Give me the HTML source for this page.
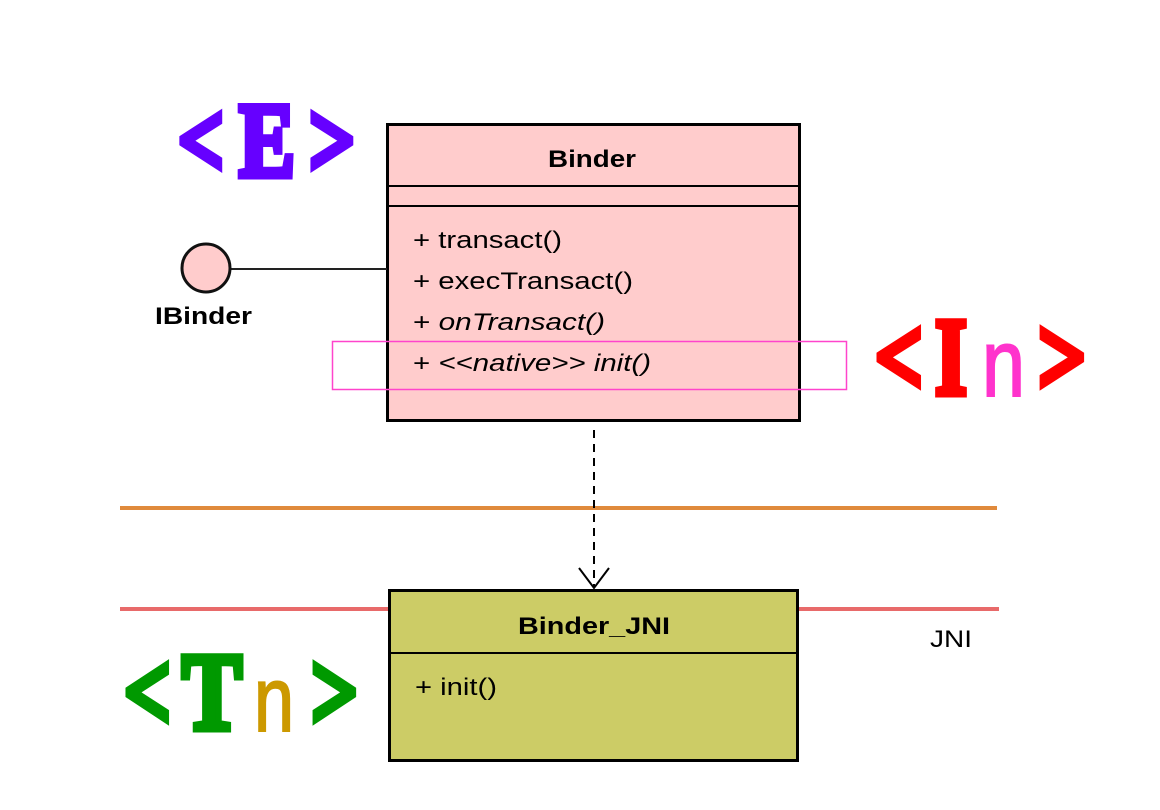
<!DOCTYPE html>
<html><head><meta charset="utf-8"><style>
html,body{margin:0;padding:0;background:#fff;}
svg{display:block;}
</style></head><body>
<svg width="1160" height="810" viewBox="0 0 1160 810" xmlns="http://www.w3.org/2000/svg">
<rect width="1160" height="810" fill="#fff"/>
<line x1="120" y1="508" x2="997" y2="508" stroke="#e08a3c" stroke-width="4"/>
<line x1="120" y1="609" x2="999" y2="609" stroke="#e86a6a" stroke-width="4"/>
<rect x="387.5" y="124.5" width="412" height="296" fill="#ffcccc" stroke="#000" stroke-width="3"/>
<line x1="387" y1="186" x2="800" y2="186" stroke="#000" stroke-width="2"/>
<line x1="387" y1="206" x2="800" y2="206" stroke="#000" stroke-width="2"/>
<g font-family="Liberation Sans, sans-serif" font-size="24" fill="#000" lengthAdjust="spacingAndGlyphs">
<text x="548" y="167" font-weight="bold" textLength="88" lengthAdjust="spacingAndGlyphs">Binder</text>
<text x="413" y="248" textLength="149" lengthAdjust="spacingAndGlyphs">+ transact()</text>
<text x="413" y="289" textLength="220" lengthAdjust="spacingAndGlyphs">+ execTransact()</text>
<text x="413" y="330" textLength="192" lengthAdjust="spacingAndGlyphs">+ <tspan font-style="italic">onTransact()</tspan></text>
<text x="413" y="371" textLength="238" lengthAdjust="spacingAndGlyphs">+ <tspan font-style="italic">&lt;&lt;native&gt;&gt; init()</tspan></text>
</g>
<rect x="332.5" y="341.5" width="514" height="48" fill="none" stroke="#ff44cc" stroke-width="1.5"/>
<line x1="230" y1="269" x2="387" y2="269" stroke="#222" stroke-width="2"/>
<circle cx="206" cy="268" r="24" fill="#ffcccc" stroke="#111" stroke-width="3"/>
<text x="155" y="324" font-family="Liberation Sans, sans-serif" font-size="24" font-weight="bold" textLength="97" lengthAdjust="spacingAndGlyphs">IBinder</text>
<line x1="594" y1="430" x2="594" y2="587" stroke="#000" stroke-width="2" stroke-dasharray="8,6"/>
<polyline points="579,568 594,588 609,568" fill="none" stroke="#000" stroke-width="2"/>
<rect x="389.5" y="590.5" width="408" height="170" fill="#cccc66" stroke="#000" stroke-width="3"/>
<line x1="389" y1="653" x2="798" y2="653" stroke="#000" stroke-width="2"/>
<g font-family="Liberation Sans, sans-serif" font-size="24" fill="#000">
<text x="518" y="634" font-weight="bold" textLength="152" lengthAdjust="spacingAndGlyphs">Binder_JNI</text>
<text x="415" y="695" textLength="82" lengthAdjust="spacingAndGlyphs">+ init()</text>
<text x="930" y="647" textLength="42" lengthAdjust="spacingAndGlyphs">JNI</text>
</g>
<!-- <E> -->
<g font-family="Liberation Serif, serif" font-weight="bold" fill="#6600ff" stroke="#6600ff" stroke-width="7" stroke-linejoin="miter" font-size="106">
<text x="178" y="176" textLength="46" lengthAdjust="spacingAndGlyphs">&lt;</text>
<text x="239" y="176" textLength="56" lengthAdjust="spacingAndGlyphs">E</text>
<text x="309" y="176" textLength="46" lengthAdjust="spacingAndGlyphs">&gt;</text>
</g>
<!-- <In> -->
<g font-family="Liberation Serif, serif" font-weight="bold" fill="#ff0000" stroke="#ff0000" stroke-width="7" font-size="110">
<text x="875" y="394" textLength="48" lengthAdjust="spacingAndGlyphs">&lt;</text>
<text x="935" y="394" textLength="32" lengthAdjust="spacingAndGlyphs">I</text>
<text x="1038" y="394" textLength="48" lengthAdjust="spacingAndGlyphs">&gt;</text>
</g>
<text x="982" y="396" font-family="Liberation Sans, sans-serif" font-size="96" fill="#ff33cc" stroke="#ff33cc" stroke-width="2" textLength="43" lengthAdjust="spacingAndGlyphs">n</text>
<!-- <Tn> -->
<g font-family="Liberation Serif, serif" font-weight="bold" fill="#009900" stroke="#009900" stroke-width="7" font-size="110">
<text x="124" y="729" textLength="47" lengthAdjust="spacingAndGlyphs">&lt;</text>
<text x="182" y="729" textLength="60" lengthAdjust="spacingAndGlyphs">T</text>
<text x="311" y="729" textLength="47" lengthAdjust="spacingAndGlyphs">&gt;</text>
</g>
<text x="254" y="731" font-family="Liberation Sans, sans-serif" font-size="92" fill="#cc9900" stroke="#cc9900" stroke-width="2" textLength="40" lengthAdjust="spacingAndGlyphs">n</text>
</svg>
</body></html>
